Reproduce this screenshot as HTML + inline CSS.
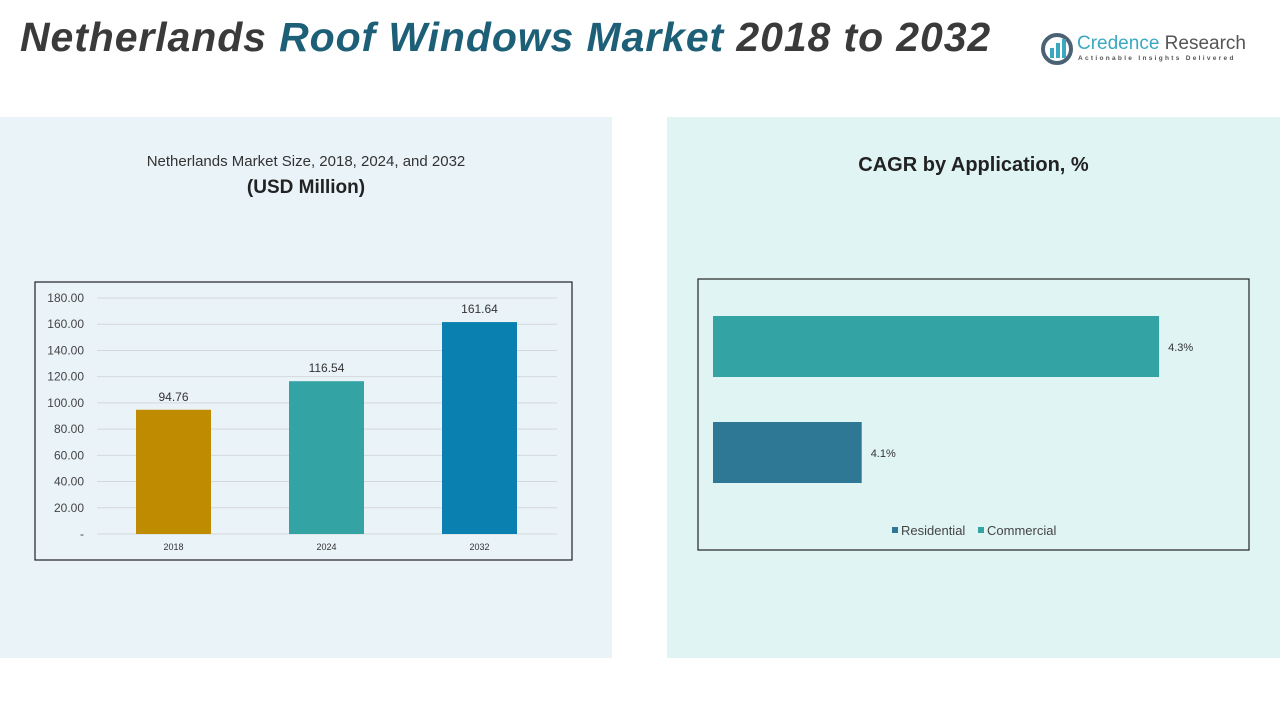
<!DOCTYPE html>
<html><head><meta charset="utf-8"><style>
body{margin:0;width:1280px;height:720px;background:#fff;position:relative;overflow:hidden;font-family:"Liberation Sans",sans-serif}
.abs{position:absolute}
</style></head><body>
<div class="abs" style="left:20px;top:14px;font-size:41px;font-weight:bold;font-style:italic;color:#3a3a3a;letter-spacing:0.9px">Netherlands <span style="color:#1e5f78">Roof Windows Market</span> 2018 to 2032</div>
<div class="abs" style="left:1040px;top:30px;width:230px;height:40px">
<svg width="36" height="36" style="position:absolute;left:0;top:2px"><circle cx="17" cy="17" r="14" fill="none" stroke="#4a6274" stroke-width="4"/><rect x="10" y="16" width="4" height="10" fill="#3aa8c0"/><rect x="16" y="11" width="4" height="15" fill="#3aa8c0"/><rect x="22" y="7" width="4" height="19" fill="#3aa8c0"/></svg>
<div class="abs" style="left:37px;top:3px;font-size:19px;color:#3aa8c0;white-space:nowrap">Credence <span style="color:#555">Research</span></div>
<div class="abs" style="left:38px;top:25px;font-size:6.5px;letter-spacing:2.3px;color:#555;white-space:nowrap;font-weight:bold">Actionable Insights Delivered</div>
</div>
<div class="abs" style="left:0;top:117px;width:612px;height:541px;background:#eaf3f8"></div>
<div class="abs" style="left:667px;top:117px;width:613px;height:541px;background:#e1f4f4"></div>
<div class="abs" style="left:0;top:153px;width:612px;text-align:center;font-size:15px;color:#333">Netherlands Market Size, 2018, 2024, and 2032</div>
<div class="abs" style="left:0;top:177px;width:612px;text-align:center;font-size:19px;font-weight:bold;color:#222">(USD Million)</div>
<div class="abs" style="left:667px;top:154px;width:613px;text-align:center;font-size:20px;font-weight:bold;color:#222">CAGR by Application, %</div>
<svg class="abs" style="left:0;top:0" width="1280" height="720" id="svg">
<rect x="35" y="282" width="537" height="278" fill="none" stroke="#222" stroke-width="1.2"/>
<rect x="698" y="279" width="551" height="271" fill="none" stroke="#222" stroke-width="1.2"/>
<g id="left"></g><g id="right"></g>
</svg>
<script>
const years=["2018","2024","2032"];
const sizes=[94.76,116.54,161.64];
const yTicks=[0,20,40,60,80,100,120,140,160,180];
const apps=["Commercial","Residential"];
const cagr=[4.3,4.1];
const NS="http://www.w3.org/2000/svg";
function mk(t,a,p){const e=document.createElementNS(NS,t);for(const k in a)e.setAttribute(k,a[k]);p.appendChild(e);return e;}
const L=document.getElementById('left'),R=document.getElementById('right');
const y=v=>534-(v/180)*236;
const bx=i=>173.5+i*153;
yTicks.forEach(t=>{
 const g=mk('line',{x1:97,x2:557,y1:y(t),y2:y(t),stroke:'#d4d8db','stroke-width':1},L);
 
 const tx=mk('text',{x:84,y:y(t)+4,'text-anchor':'end','font-size':12,fill:'#444'},L);
 tx.textContent=t===0?'-':t.toFixed(2);
 
});
const cols=['#bf8b00','#33a3a3','#0a80b0'];
years.forEach((yr,i)=>{
 const r=mk('rect',{x:bx(i)-37.5,y:y(sizes[i]),width:75,height:534-y(sizes[i]),fill:cols[i]},L);
 
 const v=mk('text',{x:bx(i),y:y(sizes[i])-9,'text-anchor':'middle','font-size':12,fill:'#333'},L);
 v.textContent=sizes[i].toFixed(2);
 
 const c=mk('text',{x:bx(i),y:550,'text-anchor':'middle','font-size':9,fill:'#333'},L);
 c.textContent=yr;
 
});
const xs=v=>713+(v-4.0)*1487;
const hcols=['#33a3a3','#2e7896'];
const rowY=[316,422];
apps.forEach((a,i)=>{
 const r=mk('rect',{x:713,y:rowY[i],width:xs(cagr[i])-713,height:61,fill:hcols[i]},R);
 
 const t=mk('text',{x:xs(cagr[i])+9,y:rowY[i]+35,'font-size':11,fill:'#333'},R);
 t.textContent=cagr[i].toFixed(1)+'%';
 
});
[["Residential",'#2e7896',892],["Commercial",'#33a3a3',978]].forEach(([n,c,x])=>{
 const s=mk('rect',{x:x,y:527,width:6,height:6,fill:c},R);
 
 const t=mk('text',{x:x+9,y:535,'font-size':13,fill:'#444'},R);
 t.textContent=n;
 
});
</script>
</body></html>
